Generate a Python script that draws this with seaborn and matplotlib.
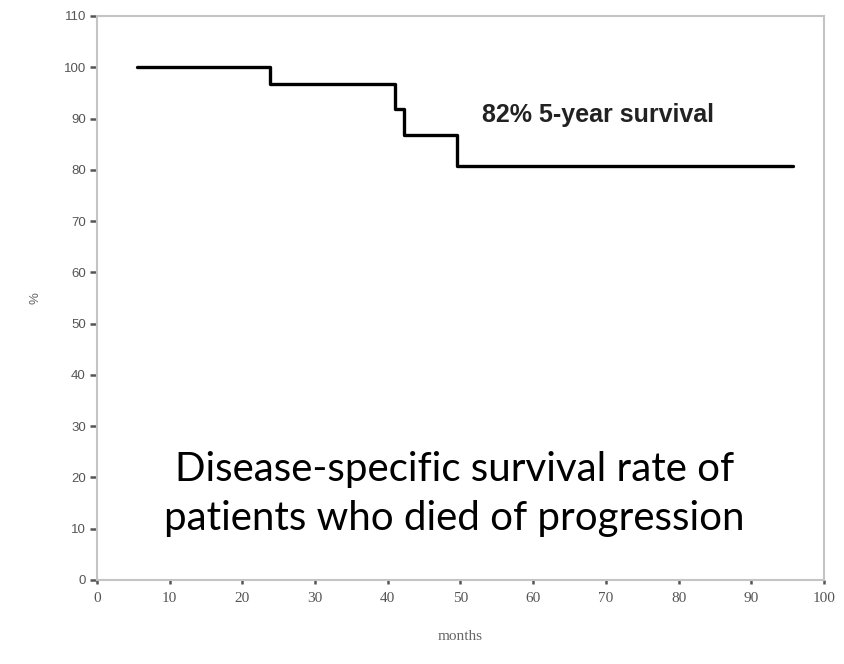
import matplotlib
matplotlib.use("Agg")
import matplotlib.pyplot as plt
import seaborn as sns
import pandas as pd

# Data
months = [5.5, 23.8, 41.0, 42.2, 49.5, 95.7]
survival = [100.0, 96.7, 91.9, 86.7, 80.8, 80.8]
x_ticks = [0, 10, 20, 30, 40, 50, 60, 70, 80, 90, 100]
y_ticks = [0, 10, 20, 30, 40, 50, 60, 70, 80, 90, 100, 110]
annotation = "82% 5-year survival"
caption = "Disease-specific survival rate of\npatients who died of progression"

df = pd.DataFrame({"months": months, "survival": survival})

sns.set_style("white")
fig = plt.figure(figsize=(8.45, 6.64), dpi=100)
ax = fig.add_axes([97 / 845, 1 - 580 / 664, (824 - 97) / 845, (580 - 16) / 664])

sns.lineplot(data=df, x="months", y="survival", ax=ax, color="black",
             linewidth=2.4, drawstyle="steps-post", estimator=None, sort=False)

ax.set_xlim(0, 100)
ax.set_ylim(0, 110)
ax.set_xticks(x_ticks)
ax.set_yticks(y_ticks)
ax.set_xticklabels([str(t) for t in x_ticks], fontfamily="Liberation Serif",
                   fontsize=11, color="#555555")
ax.set_yticklabels([str(t) for t in y_ticks], fontfamily="Liberation Sans",
                   fontsize=9.5, color="#555555")
ax.tick_params(axis="y", left=True, direction="out", length=5, width=1.8,
               color="#555555", pad=3)
ax.tick_params(axis="x", bottom=True, direction="out", length=3, width=1.8,
               color="#555555", pad=6)

for side in ["left", "bottom", "top", "right"]:
    ax.spines[side].set_visible(True)
    ax.spines[side].set_color("#c4c4c4")
    ax.spines[side].set_linewidth(1.5)

ax.set_xlabel("months", fontfamily="Liberation Serif", fontsize=11, color="#666666",
              labelpad=18)
ax.set_ylabel("%", fontfamily="Liberation Sans", fontsize=9.5, color="#666666",
              labelpad=16)

ax.text(53, 90.6, annotation, fontfamily="Liberation Sans", fontweight="bold",
        fontsize=18, color="#222222", ha="left", va="center")
ax.text(49.2, 16.8, caption, fontfamily="Lato", fontsize=29, color="black",
        ha="center", va="center", linespacing=1.42)

fig.savefig("out.png", dpi=100)
